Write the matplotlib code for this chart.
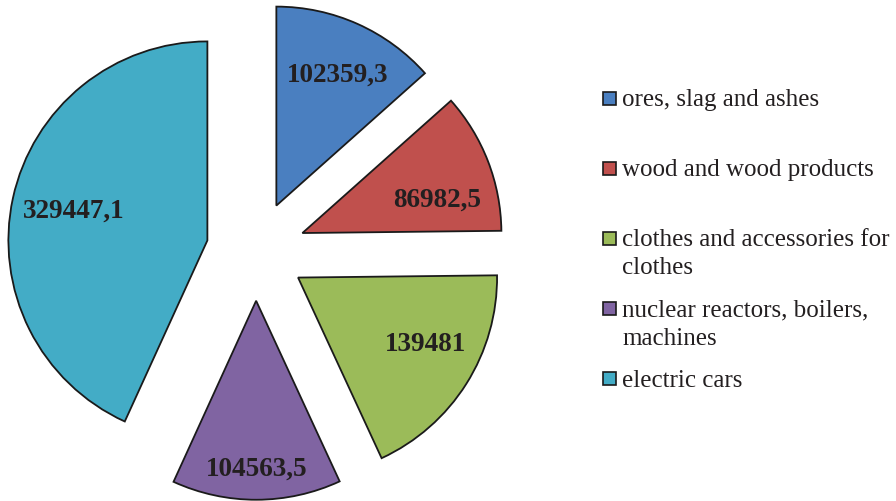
import numpy as np
import matplotlib.pyplot as plt
from matplotlib.patches import Rectangle

categories = ["ores, slag and ashes", "wood and wood products",
              "clothes and accessories for\nclothes",
              "nuclear reactors, boilers,\nmachines", "electric cars"]
values = [102359.3, 86982.5, 139481.0, 104563.5, 329447.1]
colors = ["#4a7fc0", "#c0504d", "#9bbb59", "#8064a2", "#43acc6"]

plt.rcParams['font.family'] = ['Liberation Serif', 'DejaVu Serif']

W, H = 896, 502
R = 199  # pie radius in pixels
fig = plt.figure(figsize=(W / 100, H / 100), dpi=100)
ax = fig.add_axes([0, 0, 1, 1])

wedges, _ = ax.pie(values, explode=[0.25] * len(values), startangle=90,
                   counterclock=False, colors=colors, radius=1,
                   wedgeprops=dict(edgecolor='#1a1a1a', linewidth=1.3))
ax.set_xlim(-256 / R, (W - 256) / R)
ax.set_ylim(-(H - 252) / R, 252 / R)
ax.axis('off')

# label placement relative to each exploded wedge (distance, angle shift)
label_pos = [(0.73, -1), (0.70, -7), (0.72, 5), (0.84, 0), (0.69, -0.5)]
for w, v, (d, da) in zip(wedges, values, label_pos):
    th = np.radians((w.theta1 + w.theta2) / 2 + da)
    cx, cy = w.center
    txt = f"{v:.1f}".rstrip('0').rstrip('.').replace('.', ',')
    ax.text(cx + d * np.cos(th), cy + d * np.sin(th), txt,
            ha='center', va='center', fontsize=19.5, fontweight='bold',
            color='#231f20')

# legend, first line of each entry spaced evenly
# (va='baseline' sits on the last line, so shift multi-line entries down)
for i, (lab, col) in enumerate(zip(categories, colors)):
    yc = 99 + 70.2 * i
    fig.patches.append(Rectangle((603 / W, 1 - (yc + 6.5) / H), 13 / W, 13 / H,
                                 transform=fig.transFigure, facecolor=col,
                                 edgecolor='#1a1a1a', linewidth=1.2))
    base = yc + 7 + 28 * lab.count('\n')
    fig.text(622 / W, 1 - base / H, lab, ha='left', va='baseline',
             fontsize=18, color='#231f20', linespacing=1.35)

fig.savefig('out.png', dpi=100)
